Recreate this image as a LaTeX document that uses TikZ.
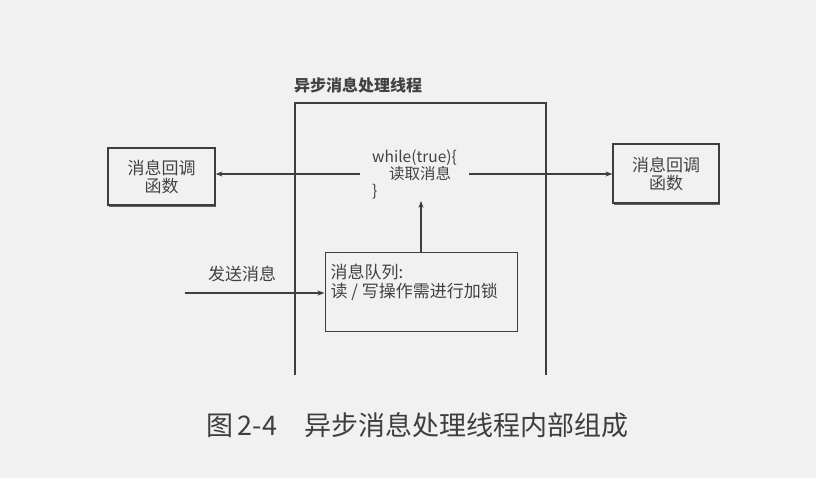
\documentclass[tikz,border=0pt]{standalone}
\usepackage{fontspec}
\setmainfont{Noto Sans CJK SC}
\usetikzlibrary{arrows.meta,shadows}
\definecolor{bg}{RGB}{241,241,241}
\definecolor{ink}{RGB}{62,62,62}
\definecolor{txt}{RGB}{66,66,66}
\begin{document}
\begin{tikzpicture}[x=1pt,y=-1pt,
  every node/.style={text=txt, font=\fontsize{17}{18}\selectfont},
  cbbox/.style={draw=ink, line width=1.2pt, fill=bg, align=center, inner sep=0pt,
    drop shadow={shadow xshift=0.5pt, shadow yshift=-2pt, fill=ink, opacity=0.8}},
  qbox/.style={draw=ink, line width=1pt, inner sep=0pt},
  arr/.style={draw=ink, line width=1.2pt, -{Stealth[length=7pt,width=5pt]}},
  frame/.style={draw=ink, line width=1.6pt}
]
\useasboundingbox[fill=bg] (0,0) rectangle (816,478);

% callback boxes
\node[cbbox, minimum width=107pt, minimum height=57pt] (lcb) at (161.5,176.5) {消息回调\\函数};
\node[cbbox, minimum width=106pt, minimum height=59pt] (rcb) at (666,173.5) {消息回调\\函数};

% thread frame
\node[anchor=west, font=\fontsize{16}{17}\selectfont\bfseries, inner sep=0pt] (title) at (294,85) {异步消息处理线程};
\draw[frame] (295,375) -- (295,103) -- (546,103) -- (546,375);

% loop text
\node[align=left, inner xsep=12pt, inner ysep=2pt, font=\fontsize{15.5}{17}\selectfont] (loop) at (414.5,174) {while(true)\{\\\hspace{1.1em}读取消息\\\}};

% queue box
\node[qbox, minimum width=192pt, minimum height=78pt] (queue) at (421,292) {};
\node[anchor=north west, align=left, inner sep=0pt, font=\fontsize{17}{19}\selectfont] (qtext) at ([xshift=6pt,yshift=-11pt]queue.north west) {消息队列:\\读 / 写操作需进行加锁};

% send
\coordinate (send) at (185,293);
\node (sendlbl) at (242,274) {发送消息};

% connectors
\draw[arr] (loop.west) -- (loop.west -| lcb.east);
\draw[arr] (loop.east) -- (loop.east -| rcb.west);
\draw[arr] ([xshift=6.5pt]loop.south |- queue.north) -- ([xshift=6.5pt]loop.south);
\draw[arr] (send) -- (send -| queue.west);

% caption
\node[anchor=west, inner sep=0pt, text=ink, font=\fontsize{27}{30}\selectfont] (caption) at (206,425) {图\,2-4\hspace{1em}异步消息处理线程内部组成};
\end{tikzpicture}
\end{document}
